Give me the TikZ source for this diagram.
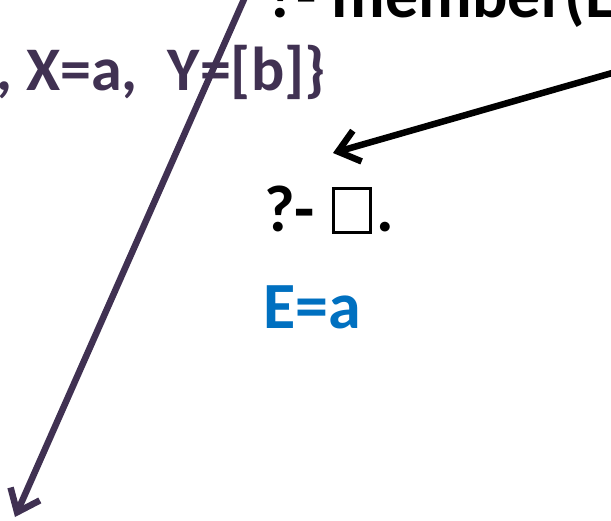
\documentclass[tikz,border=0pt]{standalone}
\usepackage{fontspec}
\setmainfont{Carlito}
\usetikzlibrary{arrows.meta, positioning}
\definecolor{goalpurple}{HTML}{403152}
\definecolor{bindblue}{HTML}{0070C0}
\newcommand{\emptygoal}{{\setlength{\fboxrule}{3pt}\setlength{\fboxsep}{0pt}\fbox{\rule{0pt}{41pt}\hspace{34pt}}}}
\tikzset{
    goal/.style={anchor=base west, inner sep=0pt, font=\fontsize{66}{70}\selectfont\bfseries},
    answer/.style={goal, text=bindblue},
    subst/.style={goal, anchor=base east, text=goalpurple, font=\fontsize{62}{66}\selectfont\bfseries},
    arrow/.style={-{Straight Barb[length=20pt, width=32pt]}, line width=6.5pt, line cap=round}
}
\begin{document}
\begin{tikzpicture}[x=1pt, y=-1pt]
            \clip (0,0) rectangle (611,520);
            \fill[white] (0,0) rectangle (611,520);

            \node (query) [goal] at (266,17) {?- member(E};
            \node (bind) [subst] at (326,90) {, X=a,\hspace{30pt}Y=[b]\}};
            \node (empty) [goal] at (264,231) {?-\hspace{17pt}\emptygoal\hspace{5pt}.};
            \node (ans) [answer] at (263,328) {E=a};

            % Arrows coming from outside the frame
            \coordinate (rightin) at (640,65);
            \coordinate (topin) at (249,-12);
            \coordinate (leftout) at (15,517);
            \coordinate (emptytip) at (333,153);
            \draw [arrow, black] (rightin) -- (emptytip);
            \draw [arrow, goalpurple] (topin) -- (leftout);
\end{tikzpicture}
\end{document}
